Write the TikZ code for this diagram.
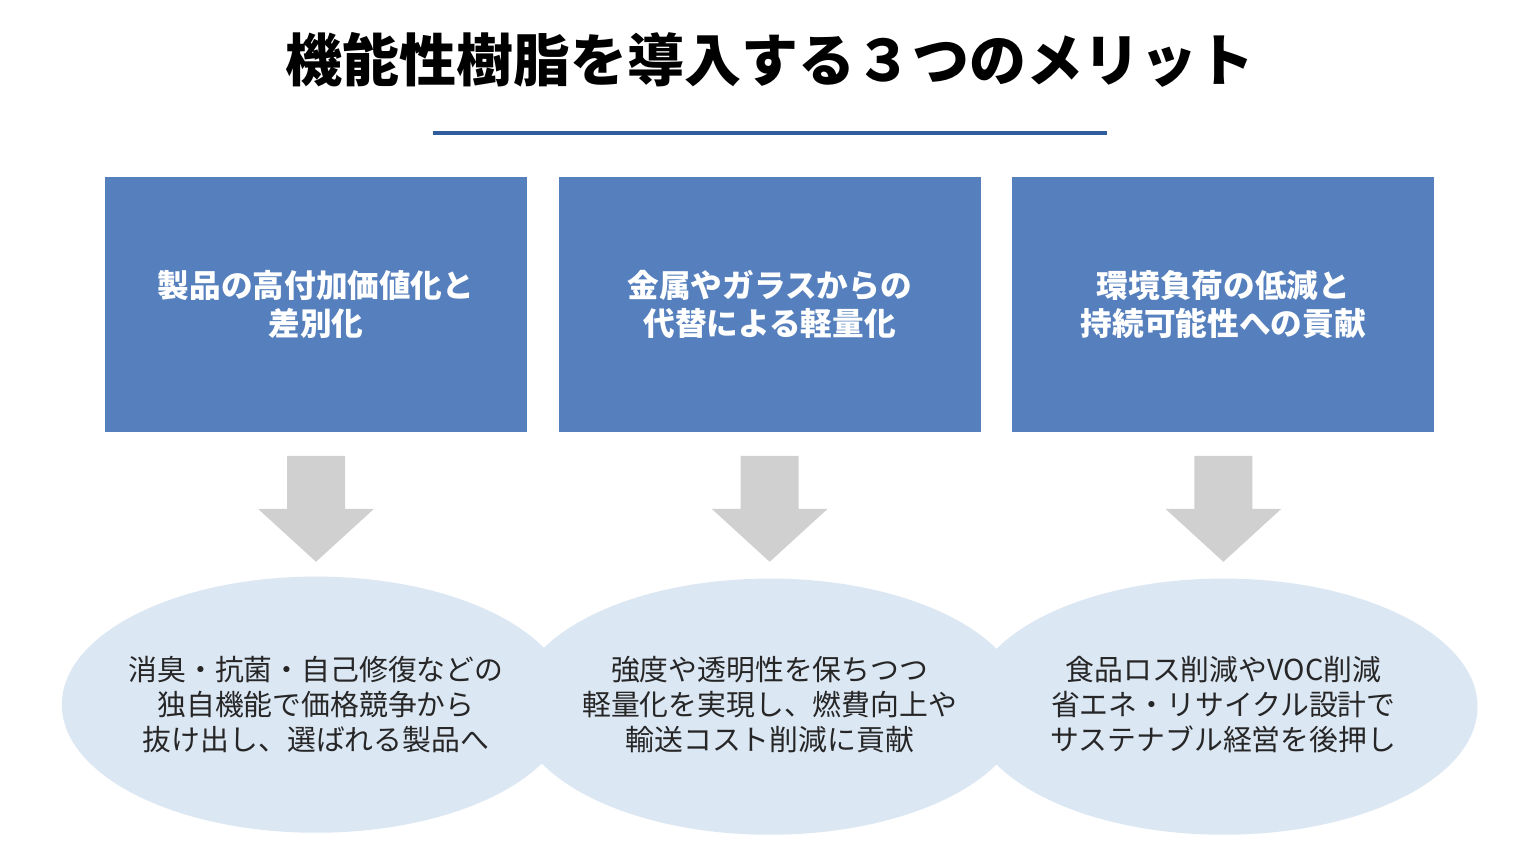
\documentclass[tikz,border=0pt]{standalone}
\usepackage{fontspec}
\usetikzlibrary{positioning,shapes.geometric}
\newfontfamily\jpfont{Noto Sans CJK JP}
\newfontfamily\jpheavy{Noto Sans CJK JP Black}
\definecolor{boxblue}{RGB}{86,128,189}
\definecolor{ruleblue}{RGB}{47,93,158}
\definecolor{ellblue}{RGB}{220,231,244}
\definecolor{arrowgray}{RGB}{208,208,208}
\definecolor{txtgray}{RGB}{38,38,38}
\tikzset{
	meritbox/.style={fill=boxblue, minimum width=4.22cm, minimum height=2.55cm, inner sep=0pt,
		text=white, align=center, font=\jpfont\bfseries\fontsize{9}{10.6}\selectfont},
	effect/.style={ellipse, fill=ellblue, minimum width=5.08cm, minimum height=2.56cm, inner sep=0pt},
	effecttext/.style={text=txtgray, align=center, inner sep=0pt, font=\jpfont\fontsize{8.2}{9.9}\selectfont},
	downarrow/.style={fill=arrowgray}
}
\begin{document}
\begin{tikzpicture}[x=0.01cm,y=-0.01cm]

	% canvas
	\fill[white] (0,0) rectangle (1540,866);

	% title
	\node[font=\jpheavy\fontsize{16.2}{18}\selectfont] (title) at (770,60) {機能性樹脂を導入する３つのメリット};
	\coordinate (ruleL) at (433,133);
	\coordinate (ruleR) at (1107,133);
	\draw[ruleblue, line width=1.15pt] (ruleL) -- (ruleR);

	% merits
	\node[meritbox] (box1) at (316,304.5) {製品の高付加価値化と\\差別化};
	\node[meritbox, right=0.30cm of box1] (box2) {金属やガラスからの\\代替による軽量化};
	\node[meritbox, right=0.30cm of box2] (box3) {環境負荷の低減と\\持続可能性への貢献};

	% effects
	\node[effect, below=1.43cm of box1] (eff1) {};
	\node[effect, below=1.45cm of box2] (eff2) {};
	\node[effect, below=1.45cm of box3] (eff3) {};
	\node[effecttext] (eff1txt) at (eff1) {消臭・抗菌・自己修復などの\\独自機能で価格競争から\\抜け出し、選ばれる製品へ};
	\node[effecttext] (eff2txt) at (eff2 |- eff1) {強度や透明性を保ちつつ\\軽量化を実現し、燃費向上や\\輸送コスト削減に貢献};
	\node[effecttext] (eff3txt) at (eff3 |- eff1) {食品ロス削減やVOC削減\\省エネ・リサイクル設計で\\サステナブル経営を後押し};

	% arrows
	\foreach \i in {1,2,3}{
		\begin{scope}[shift={(box\i.south)}]
			\fill[downarrow] (-29,23) -- (29,23) -- (29,76) -- (58,76) -- (0,129) -- (-58,76) -- (-29,76) -- cycle;
		\end{scope}
	}

\end{tikzpicture}
\end{document}
